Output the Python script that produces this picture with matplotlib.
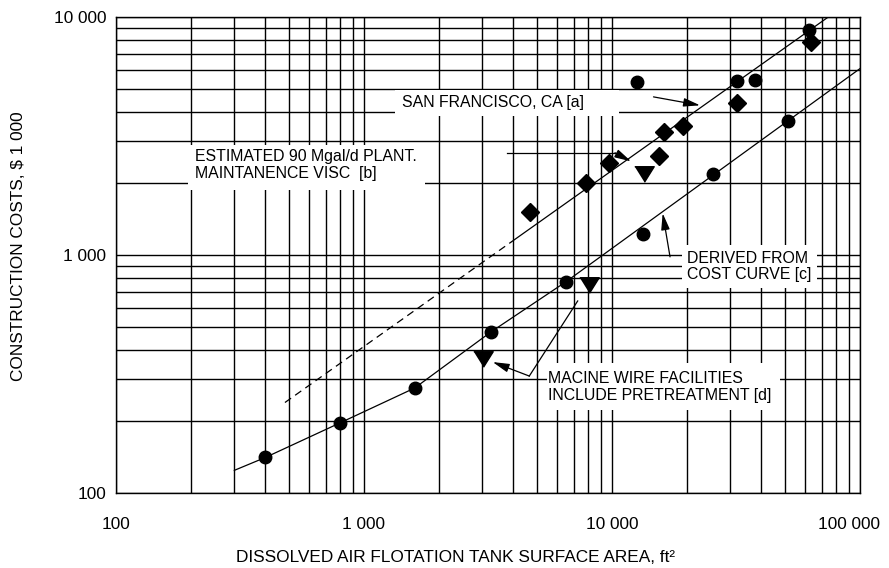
import matplotlib
matplotlib.use("Agg")
import matplotlib.pyplot as plt
from matplotlib.patches import Rectangle
from matplotlib.transforms import ScaledTranslation
from matplotlib.ticker import FixedLocator, FixedFormatter, LogLocator, NullFormatter

plt.rcParams['font.family'] = ['Liberation Sans', 'DejaVu Sans']

# Surface area (ft2) vs construction cost ($1 000)
CIRCLE_X = [400, 800, 1600, 3250, 6500, 12600, 13300, 25600, 32000, 37700, 51400, 62500]
CIRCLE_Y = [141, 197, 276, 475, 770, 5330, 1230, 2180, 5380, 5460, 3650, 8800]

DIAMOND_X = [4670, 7850, 9700, 15500, 16250, 19400, 32000, 63400]
DIAMOND_Y = [1520, 2000, 2440, 2600, 3280, 3480, 4350, 7850]

TRIANGLE_X = [3030, 8100, 13500]
TRIANGLE_Y = [367, 746, 2180]

# San Francisco fit line: dashed extrapolation, then solid
SF_DASHED_X = [480, 3950]
SF_DASHED_Y = [240, 1140]
SF_SOLID_X = [3950, 74500]
SF_SOLID_Y = [1140, 10000]

# Cost curve
COST_CURVE_X = [300, 400, 800, 1600, 3250, 6500, 100000]
COST_CURVE_Y = [124.5, 141, 197, 276, 475, 770, 6070]

X_TICKS = [100, 1000, 10000, 100000]
X_TICK_LABELS = ["100", "1 000", "10 000", "100 000"]
Y_TICKS = [100, 1000, 10000]
Y_TICK_LABELS = ["100", "1 000", "10 000"]

NOTE_A = "SAN FRANCISCO, CA [a]"
NOTE_B = "ESTIMATED 90 Mgal/d PLANT.\nMAINTANENCE VISC  [b]"
NOTE_C = "DERIVED FROM\nCOST CURVE [c]"
NOTE_D = "MACINE WIRE FACILITIES\nINCLUDE PRETREATMENT [d]"

fig = plt.figure(figsize=(8.89, 5.68), dpi=100)
ax = fig.add_axes([0.13048, 0.13204, 0.83690, 0.83803])

ax.set_xscale("log")
ax.set_yscale("log")
ax.set_xlim(100, 100000)
ax.set_ylim(100, 10000)

ax.xaxis.set_major_locator(FixedLocator(X_TICKS))
ax.xaxis.set_major_formatter(FixedFormatter(X_TICK_LABELS))
ax.yaxis.set_major_locator(FixedLocator(Y_TICKS))
ax.yaxis.set_major_formatter(FixedFormatter(Y_TICK_LABELS))
for axis in (ax.xaxis, ax.yaxis):
    axis.set_minor_locator(LogLocator(base=10, subs=range(2, 10)))
    axis.set_minor_formatter(NullFormatter())

ax.grid(which="both", color="black", lw=1.0, zorder=0)
ax.set_axisbelow(True)
for sp in ax.spines.values():
    sp.set_linewidth(1.0)
    sp.set_zorder(1)
ax.tick_params(which="both", length=0, labelsize=12.4, colors="black")
ax.tick_params(axis="x", pad=17)
ax.tick_params(axis="y", pad=7)

# last x label sits a little left of its grid line, as in the original
fig.canvas.draw()
last = ax.get_xticklabels()[-1]
last.set_transform(last.get_transform() + ScaledTranslation(-0.11, 0, fig.dpi_scale_trans))

ax.set_xlabel("DISSOLVED AIR FLOTATION TANK SURFACE AREA, ft\u00b2", fontsize=12.4, va="center")
ax.set_ylabel("CONSTRUCTION COSTS, $ 1 000", fontsize=12.4, va="center")
ax.xaxis.set_label_coords(0.4565, -0.1345)
ax.yaxis.set_label_coords(-0.1313, 0.519)

# white boxes behind the notes (cut the grid)
boxes = [(0.375, 0.792, 0.301, 0.0546),
         (0.0968, 0.6366, 0.3185, 0.0945),
         (0.7608, 0.4307, 0.1814, 0.0903),
         (0.5793, 0.1744, 0.3132, 0.0987)]
for bx, by, bw, bh in boxes:
    ax.add_patch(Rectangle((bx, by), bw, bh, transform=ax.transAxes,
                           facecolor="white", edgecolor="none", zorder=2))

note_kw = dict(transform=ax.transAxes, fontsize=11.4, ha="left", va="center",
               linespacing=1.12, zorder=3)
ax.text(0.384, 0.820, NOTE_A, **note_kw)
ax.text(0.1066, 0.6891, NOTE_B, **note_kw)
ax.text(0.767, 0.4758, NOTE_C, **note_kw)
ax.text(0.581, 0.2227, NOTE_D, **note_kw)

# lines
ax.plot(SF_DASHED_X, SF_DASHED_Y, color="black", lw=0.9, dashes=(6, 4), zorder=4)
ax.plot(SF_SOLID_X, SF_SOLID_Y, color="black", lw=0.9, zorder=4)
ax.plot(COST_CURVE_X, COST_CURVE_Y, color="black", lw=0.9, zorder=4)

# markers
ax.plot(CIRCLE_X, CIRCLE_Y, "o", color="black", ms=9, zorder=5)
ax.plot(DIAMOND_X, DIAMOND_Y, "D", color="black", ms=9.5, zorder=5)
tri = [(-1, 0.8), (1, 0.8), (0, -0.8)]
ax.plot(TRIANGLE_X, TRIANGLE_Y, marker=tri, ls="none", color="black", ms=14, zorder=5)

# arrows
arr = dict(arrowstyle="-|>,head_length=0.5,head_width=0.13", color="black",
           lw=0.9, mutation_scale=20, shrinkA=0, shrinkB=0)
ax.annotate("", xy=(22650, 4255), xytext=(14700, 4617), arrowprops=arr, zorder=6)

ax.plot([3760, 10280], [2688, 2688], color="black", lw=0.9, zorder=6)
ax.annotate("", xy=(11930, 2475), xytext=(10280, 2688), arrowprops=arr, zorder=6)

ax.annotate("", xy=(16010, 1497), xytext=(17140, 982), arrowprops=arr, zorder=6)

ax.annotate("", xy=(3304, 355), xytext=(4640, 310), arrowprops=arr, zorder=6)
ax.plot([4640, 7272], [310, 641], color="black", lw=0.9, zorder=6)

fig.savefig("out.png", dpi=100)
